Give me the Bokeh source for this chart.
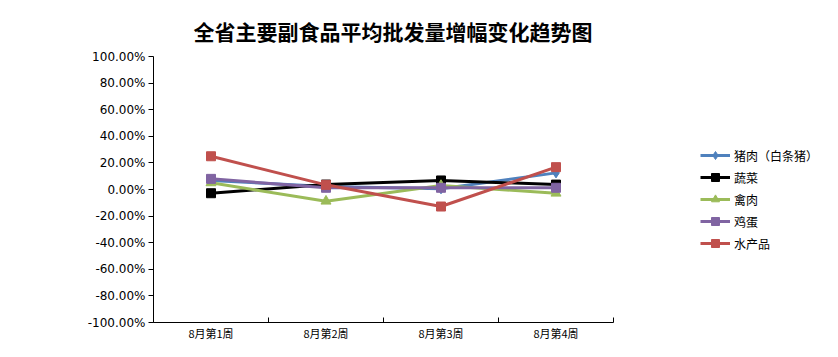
import numpy as np
from bokeh.plotting import figure
from bokeh.models import FixedTicker, Legend, LegendItem, Range1d, Title
from bokeh.embed import file_html
from bokeh.resources import INLINE

weeks = ["8月第1周", "8月第2周", "8月第3周", "8月第4周"]
pork = [6.8, 2.3, 0.5, 12.5]
vegetables = [-2.8, 3.7, 6.8, 3.7]
poultry = [5.0, -8.8, 3.0, -2.8]
eggs = [8.0, 1.3, 1.3, 1.3]
aquatic = [25.0, 3.5, -12.8, 16.8]
series_names = ["猪肉（白条猪）", "蔬菜", "禽肉", "鸡蛋", "水产品"]
y_ticks = [-100, -80, -60, -40, -20, 0, 20, 40, 60, 80, 100]

colors = ["#4F81BD", "#000000", "#9BBB59", "#8064A2", "#C0504D"]
markers = ["diamond", "square", "triangle", "square", "square"]
msizes = [10, 9, 10, 9, 9]

x = np.arange(len(weeks)) + 0.5

# layout: frame spans to right edge so the legend can sit inside it;
# the x axis is bounded to the category span (460 px of the 677 px frame)
W, H = 830, 350
LEFT, TOP, BOTTOM = 153, 56, 28
frame_w = W - LEFT
x_end = len(weeks) * frame_w / 460.0

p = figure(width=W, height=H, output_backend="svg", toolbar_location=None,
           x_range=Range1d(0, x_end), y_range=Range1d(-100, 100),
           min_border_left=LEFT, min_border_right=0, min_border_top=TOP, min_border_bottom=BOTTOM)
p.outline_line_color = None
p.xgrid.visible = False
p.ygrid.visible = False
p.title.visible = False

t = Title(text="全省主要副食品平均批发量增幅变化趋势图", align="left", offset=40,
          text_font="Noto Sans CJK SC", text_font_size="21px", text_font_style="bold",
          text_color="#000000", standoff=22)
p.add_layout(t, "above")

# y axis
p.yaxis.ticker = FixedTicker(ticks=y_ticks)
p.yaxis.major_label_overrides = {v: f"{v:.2f}%" for v in y_ticks}
p.yaxis.major_tick_in = 0
p.yaxis.major_tick_out = 5
p.yaxis.minor_tick_out = 0
p.yaxis.minor_tick_in = 0
p.yaxis.major_label_text_font = "DejaVu Sans"
p.yaxis.major_label_text_font_size = "12px"
p.yaxis.major_label_text_color = "#000000"
p.yaxis.major_label_standoff = 3
p.yaxis.axis_line_color = "#000000"
p.yaxis.major_tick_line_color = "#000000"

# x axis
p.xaxis.bounds = (0, len(weeks))
p.xaxis.ticker = FixedTicker(ticks=list(x), minor_ticks=list(range(len(weeks) + 1)))
p.xaxis.major_label_overrides = {float(v): w for v, w in zip(x, weeks)}
p.xaxis.major_tick_in = 0
p.xaxis.major_tick_out = 0
p.xaxis.minor_tick_in = 5
p.xaxis.minor_tick_out = 0
p.xaxis.major_label_text_font = "Noto Sans CJK SC"
p.xaxis.major_label_text_font_size = "11px"
p.xaxis.major_label_text_color = "#000000"
p.xaxis.major_label_standoff = 2
p.xaxis.axis_line_color = "#000000"
p.xaxis.minor_tick_line_color = "#000000"

items = []
for name, vals, c, m, s in zip(series_names, [pork, vegetables, poultry, eggs, aquatic], colors, markers, msizes):
    r1 = p.line(x, vals, line_color=c, line_width=3)
    r2 = p.scatter(x, vals, marker=m, size=s, fill_color=c, line_color=c)
    items.append(LegendItem(label=name, renderers=[r1, r2]))

legend = Legend(items=items, location=(547, 69), orientation="vertical",
                label_text_font="Noto Sans CJK SC", label_text_font_size="12px",
                label_text_color="#000000", glyph_width=30, glyph_height=20,
                label_height=20, spacing=2, padding=0, margin=0,
                border_line_color=None, background_fill_alpha=0, label_standoff=4)
p.add_layout(legend)

open("out.html", "w").write(file_html(p, INLINE))
